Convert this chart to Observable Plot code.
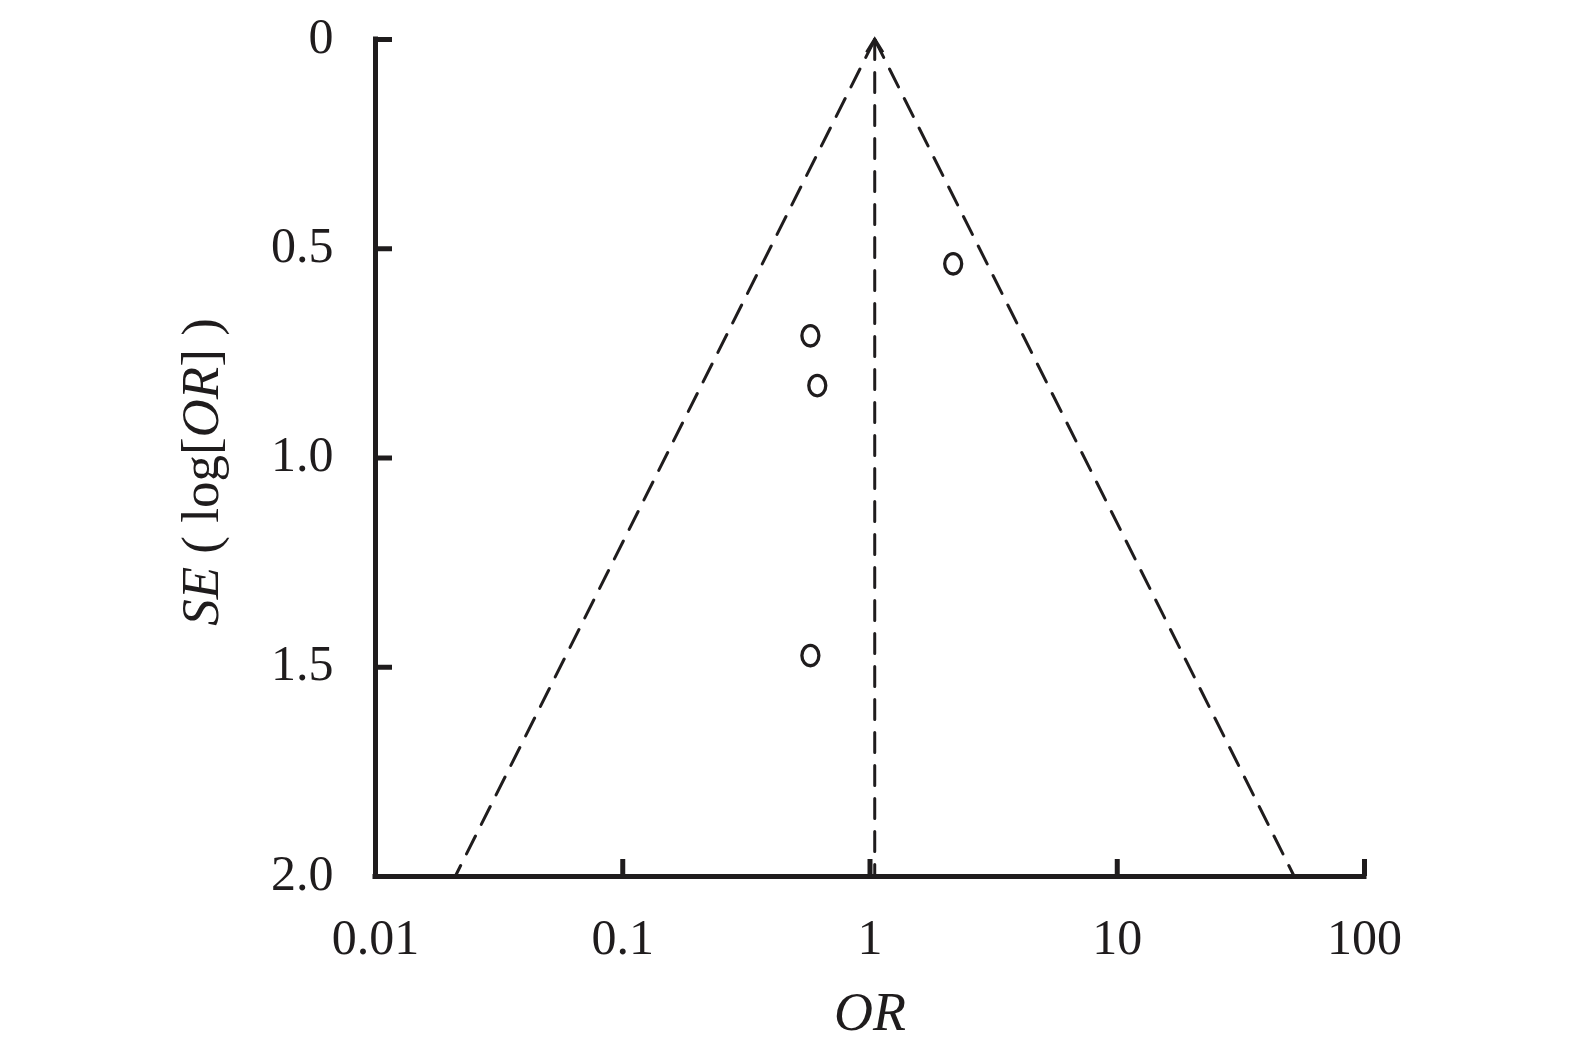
<!DOCTYPE html>
<html>
<head>
<meta charset="utf-8">
<script src="https://cdn.jsdelivr.net/npm/d3@7"></script>
<script src="https://cdn.jsdelivr.net/npm/@observablehq/plot@0.6"></script>
<style>
  html, body { margin: 0; padding: 0; background: #fff; }
  #chart { width: 1575px; height: 1053px; }
</style>
</head>
<body>
<div id="chart"></div>
<script>
// ---- data ----
const studyOR = [2.17, 0.574, 0.612, 0.574];
const studySE = [0.536, 0.708, 0.827, 1.472];
const pooledOR = 1.045;
const funnelSE = [0, 2.0];
const funnelLeftOR = [1.045, 0.021];
const funnelRightOR = [1.045, 52];
const xTicks = [0.01, 0.1, 1, 10, 100];
const xTickLabels = ["0.01", "0.1", "1", "10", "100"];
const yTicks = [0, 0.5, 1.0, 1.5, 2.0];
const yTickLabels = ["0", "0.5", "1.0", "1.5", "2.0"];
const xLabel = "OR";
const yLabel = "SE ( log[OR] )";

const studies = studyOR.map((o, i) => ({or: o, se: studySE[i]}));
const leftLine = funnelSE.map((s, i) => ({or: funnelLeftOR[i], se: s}));
const rightLine = funnelSE.map((s, i) => ({or: funnelRightOR[i], se: s}));
const vertLine = funnelSE.map(s => ({or: pooledOR, se: s}));

const FONT = "'Liberation Serif', 'DejaVu Serif', serif";
const ink = "#1f1c1d";
const dash = "20,13";
const W = 1575, H = 1053, ML = 375, MR = 211, MT = 39, MB = 177;
const pxPerUnitY = (H - MT - MB) / 2;
const pxPerDecade = (W - ML - MR) / 4;
const tickLen = 17;

const ellipse = {
  draw(ctx) {
    const rx = 8.5, ry = 10.2, k = 0.5523;
    ctx.moveTo(rx, 0);
    ctx.bezierCurveTo(rx, ry * k, rx * k, ry, 0, ry);
    ctx.bezierCurveTo(-rx * k, ry, -rx, ry * k, -rx, 0);
    ctx.bezierCurveTo(-rx, -ry * k, -rx * k, -ry, 0, -ry);
    ctx.bezierCurveTo(rx * k, -ry, rx, -ry * k, rx, 0);
    ctx.closePath();
  }
};
const caret = {
  draw(ctx) {
    ctx.moveTo(-8, 13);
    ctx.lineTo(0, 0);
    ctx.lineTo(8, 13);
  }
};

const plot = Plot.plot({
  width: W,
  height: H,
  marginLeft: ML,
  marginRight: MR,
  marginTop: MT,
  marginBottom: MB,
  style: {fontFamily: FONT, fontSize: "50px", color: ink, background: "#fff"},
  x: {type: "log", domain: [0.01, 100]},
  y: {domain: [0, 2], reverse: true},
  marks: [
    // funnel
    Plot.line(leftLine, {x: "or", y: "se", stroke: ink, strokeWidth: 3, strokeDasharray: dash}),
    Plot.line(rightLine, {x: "or", y: "se", stroke: ink, strokeWidth: 3, strokeDasharray: dash}),
    Plot.line(vertLine, {x: "or", y: "se", stroke: ink, strokeWidth: 3, strokeDasharray: dash}),
    Plot.dot([pooledOR], {x: d => d, y: 0, symbol: caret, fill: "none", stroke: ink, strokeWidth: 3.4, strokeLinejoin: "miter"}),
    // studies
    Plot.dot(studies, {x: "or", y: "se", symbol: ellipse, fill: "none", stroke: ink, strokeWidth: 3.3}),
    // axis lines
    Plot.ruleX([0.01], {stroke: ink, strokeWidth: 5, y1: 0, y2: 2, strokeLinecap: "square"}),
    Plot.ruleY([2], {stroke: ink, strokeWidth: 5, x1: 0.01, x2: 100, strokeLinecap: "square"}),
    // inward ticks
    Plot.ruleX(xTicks.slice(1), {x: d => d, y1: 2, y2: 2 - tickLen / pxPerUnitY, stroke: ink, strokeWidth: 5}),
    Plot.ruleY(yTicks.slice(0, -1), {y: d => d, x1: 0.01, x2: 0.01 * Math.pow(10, tickLen / pxPerDecade), stroke: ink, strokeWidth: 5}),
    // tick labels
    Plot.axisX(xTicks, {tickSize: 0, tickPadding: 42, tickFormat: d => xTickLabels[xTicks.indexOf(d)], label: null, fontSize: 50}),
    Plot.axisY(yTicks, {tickSize: 0, tickPadding: 42, dy: -3, tickFormat: d => yTickLabels[yTicks.indexOf(d)], label: null, fontSize: 50}),
    // axis titles
    Plot.text([xLabel], {frameAnchor: "bottom", dy: 136, lineAnchor: "middle", textAnchor: "middle", fontSize: 54, fontStyle: "italic", fill: ink}),
    Plot.text([yLabel], {frameAnchor: "left", rotate: -90, dx: -174, dy: 14, lineAnchor: "middle", textAnchor: "middle", fontSize: 53, fill: ink, className: "ylab"})
  ]
});

document.getElementById("chart").appendChild(plot);

// mixed italic in the y title
const yt = plot.querySelector(".ylab text");
if (yt) {
  yt.textContent = "";
  const parts = [["SE", true], [" ( log[", false], ["OR", true], ["] )", false]];
  for (const [t, it] of parts) {
    const ts = document.createElementNS("http://www.w3.org/2000/svg", "tspan");
    ts.textContent = t;
    if (it) ts.setAttribute("font-style", "italic");
    yt.appendChild(ts);
  }
}
</script>
</body>
</html>
